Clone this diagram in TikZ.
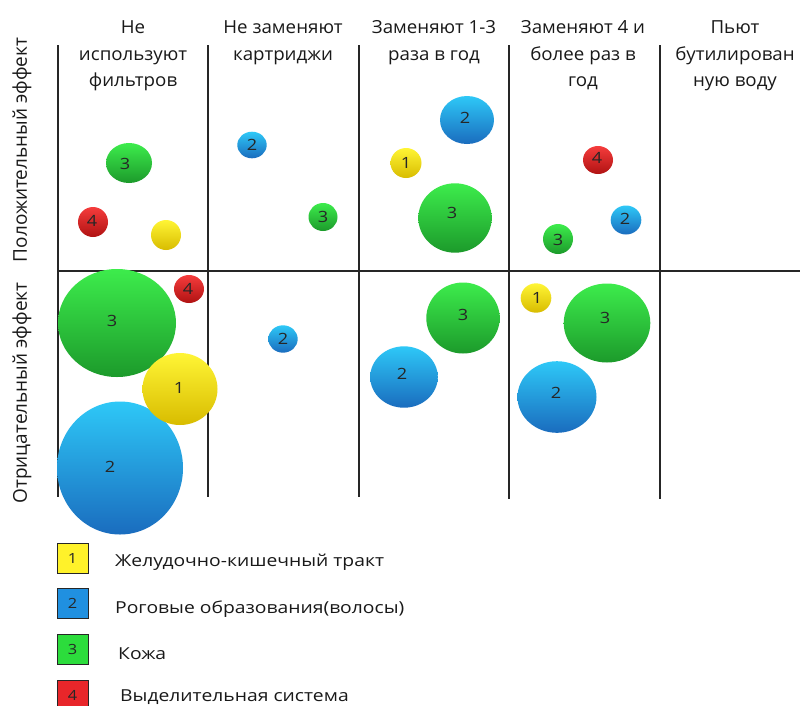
\documentclass[tikz,border=0pt]{standalone}
\usepackage{fontspec}
\setmainfont{Open Sans}
\newfontfamily\legfont[FakeStretch=1.17]{Open Sans}
\newfontfamily\headfont[FakeStretch=1.04]{Open Sans}
\definecolor{yTop}{HTML}{FFF535}
\definecolor{yBot}{HTML}{D8BC00}
\definecolor{bTop}{HTML}{2EC8F7}
\definecolor{bBot}{HTML}{1A6CBE}
\definecolor{gTop}{HTML}{3DEC4C}
\definecolor{gBot}{HTML}{1C9A2B}
\definecolor{rTop}{HTML}{F53C3C}
\definecolor{rBot}{HTML}{B01212}
\definecolor{yBox}{HTML}{FFF22A}
\definecolor{bBox}{HTML}{2090E0}
\definecolor{gBox}{HTML}{2CDC3C}
\definecolor{rBox}{HTML}{E8262A}
\begin{document}
\begin{tikzpicture}[x=1pt,y=-1pt,
  grid/.style={draw=black!85,line width=1.3pt},
  bubY/.style={top color=yTop,bottom color=yBot},
  bubB/.style={top color=bTop,bottom color=bBot},
  bubG/.style={top color=gTop,bottom color=gBot},
  bubR/.style={top color=rTop,bottom color=rBot},
  num/.style={font=\legfont\fontsize{15.5}{15.5}\selectfont,text=black!85,inner sep=0pt},
  head/.style={font=\headfont\fontsize{18}{26.5}\selectfont,align=center,anchor=north,inner sep=0pt,text=black!90},
  side/.style={font=\fontsize{19}{20}\selectfont,rotate=90,inner sep=0pt,text=black!90},
  legbox/.style={draw=black!85,line width=1pt,minimum width=31pt,minimum height=30pt,inner sep=0pt,font=\legfont\fontsize{14}{14}\selectfont,text=black!85},
  legtxt/.style={font=\legfont\fontsize{16.5}{20}\selectfont,anchor=base west,inner sep=0pt,text=black!90}]
\useasboundingbox[fill=white] (0,0) rectangle (800,705);
% grid
\draw[grid] (58,45) -- (58,497);
\draw[grid] (208,45) -- (208,497);
\draw[grid] (359,45) -- (359,497);
\draw[grid] (509,45) -- (509,499);
\draw[grid] (660,45) -- (660,499);
\draw[grid] (58,271) -- (800,271);
% headers
\node[head] (h1) at (133,20.5) {Не\\используют\\фильтров};
\node[head] (h2) at (283,20.5) {Не заменяют\\картриджи};
\node[head] (h3) at (434,20.5) {Заменяют 1-3\\раза в год};
\node[head] (h4) at (583,20.5) {Заменяют 4 и\\более раз в\\год};
\node[head] (h5) at (735,20.5) {Пьют\\бутилирован\\ную воду};
\node[side] (s1) at (22,150) {Положительный эффект};
\node[side] (s2) at (22,393) {Отрицательный эффект};
% upper bubbles
\shade[bubG] (129,163) ellipse [x radius=23,y radius=20];
\node[num] (u1) at (125,164) {3};
\shade[bubR] (93,222) ellipse [x radius=15,y radius=15];
\node[num] (u2) at (92,221) {4};
\shade[bubY] (166,235) ellipse [x radius=15,y radius=15];
\shade[bubB] (252,145) ellipse [x radius=14.7,y radius=13.3];
\node[num] (u3) at (252,145) {2};
\shade[bubG] (323,217) ellipse [x radius=14.5,y radius=14];
\node[num] (u4) at (323,217) {3};
\shade[bubB] (467,120) ellipse [x radius=27,y radius=24];
\node[num] (u5) at (465,118) {2};
\shade[bubY] (406,163) ellipse [x radius=15.5,y radius=15];
\node[num] (u6) at (406,163) {1};
\shade[bubG] (455,218) ellipse [x radius=36.7,y radius=34.7];
\node[num] (u7) at (452,213) {3};
\shade[bubR] (598,160) ellipse [x radius=15,y radius=14];
\node[num] (u8) at (597,158) {4};
\shade[bubB] (626,220) ellipse [x radius=15.3,y radius=14.5];
\node[num] (u9) at (625,219) {2};
\shade[bubG] (558,239) ellipse [x radius=15,y radius=15];
\node[num] (u10) at (558,240) {3};
% lower bubbles
\shade[bubG] (117,323) ellipse [x radius=59,y radius=54];
\node[num] (l1) at (112,321) {3};
\shade[bubR] (189,289) ellipse [x radius=15,y radius=14];
\node[num] (l2) at (188,289) {4};
\shade[bubB] (120,468) ellipse [x radius=63,y radius=66.5];
\node[num] (l4) at (110,467) {2};
\shade[bubY] (180,389) ellipse [x radius=37.5,y radius=36];
\node[num] (l3) at (179,388) {1};
\shade[bubB] (283,339) ellipse [x radius=14.7,y radius=13.7];
\node[num] (l5) at (283,339) {2};
\shade[bubG] (463,318) ellipse [x radius=36.7,y radius=35.5];
\node[num] (l6) at (463,315) {3};
\shade[bubB] (404,377) ellipse [x radius=33.8,y radius=30.7];
\node[num] (l7) at (402,374) {2};
\shade[bubY] (536,298) ellipse [x radius=15.3,y radius=14.7];
\node[num] (l8) at (537,298) {1};
\shade[bubG] (607,323) ellipse [x radius=43.3,y radius=39.5];
\node[num] (l9) at (605,318) {3};
\shade[bubB] (557,397) ellipse [x radius=39.5,y radius=35.8];
\node[num] (l10) at (556,393) {2};
% legend
\node[legbox,fill=yBox] (k1) at (72.5,558) {1};
\node[legbox,fill=bBox] (k2) at (72.5,603) {2};
\node[legbox,fill=gBox] (k3) at (72.5,649) {3};
\node[legbox,fill=rBox] (k4) at (72.5,695) {4};
\node[legtxt] (t1) at (115,566) {Желудочно-кишечный тракт};
\node[legtxt] (t2) at (115,613) {Роговые образования(волосы)};
\node[legtxt] (t3) at (118,659) {Кожа};
\node[legtxt] (t4) at (120,701.5) {Выделительная система};
\end{tikzpicture}
\end{document}
